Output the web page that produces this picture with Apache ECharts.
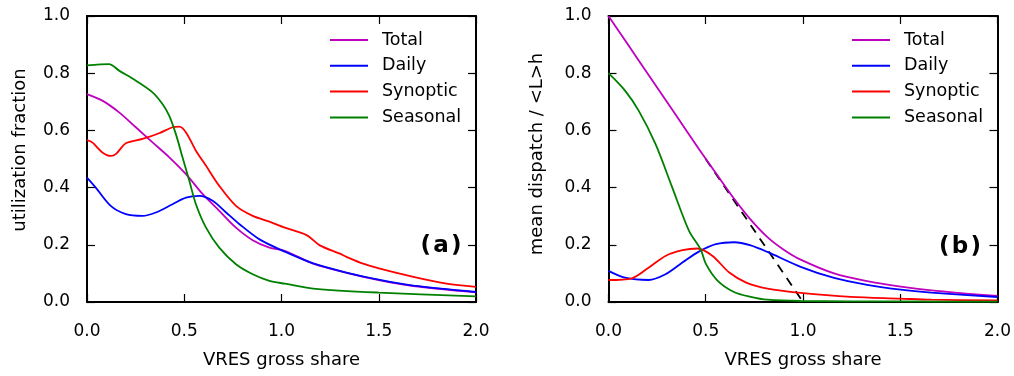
<!DOCTYPE html>
<html>
<head>
<meta charset="utf-8">
<script src="https://cdn.jsdelivr.net/npm/echarts@6/dist/echarts.min.js"></script>
<style>html,body{margin:0;padding:0;background:#fff;}#chart{width:1014px;height:376px;}</style>
</head>
<body>
<div id="chart"></div>
<script>
// ---------- data ----------
var seriesNames = ['Total', 'Daily', 'Synoptic', 'Seasonal'];
var xTicks = [0, 0.5, 1.0, 1.5, 2.0];
var yTicks = [0, 0.2, 0.4, 0.6, 0.8, 1.0];

// Panel (a): utilization fraction
var aTotalX = [0, 0.079, 0.165, 0.251, 0.337, 0.423, 0.509, 0.595, 0.68, 0.766, 0.852, 0.938, 1.017, 1.163, 1.334, 1.506, 1.677, 2.0];
var aTotalY = [0.727, 0.704, 0.663, 0.611, 0.558, 0.506, 0.447, 0.377, 0.319, 0.26, 0.216, 0.19, 0.179, 0.134, 0.102, 0.076, 0.056, 0.034];
var aDailyX = [0, 0.045, 0.122, 0.2, 0.285, 0.354, 0.44, 0.509, 0.577, 0.646, 0.715, 0.784, 0.887, 1.017, 1.163, 1.334, 1.506, 1.677, 2.0];
var aDailyY = [0.435, 0.40, 0.336, 0.307, 0.301, 0.313, 0.342, 0.365, 0.371, 0.354, 0.313, 0.272, 0.219, 0.176, 0.135, 0.103, 0.077, 0.057, 0.035];
var aSynX = [0, 0.027, 0.079, 0.122, 0.148, 0.2, 0.285, 0.371, 0.44, 0.474, 0.509, 0.56, 0.612, 0.68, 0.766, 0.852, 0.938, 1.017, 1.129, 1.197, 1.3, 1.334, 1.42, 1.506, 1.678, 1.849, 2.0];
var aSynY = [0.566, 0.558, 0.523, 0.511, 0.517, 0.555, 0.57, 0.59, 0.611, 0.613, 0.593, 0.529, 0.476, 0.406, 0.336, 0.301, 0.281, 0.26, 0.234, 0.198, 0.169, 0.158, 0.134, 0.117, 0.088, 0.064, 0.053];
var aSeaX = [0, 0.113, 0.165, 0.251, 0.337, 0.388, 0.423, 0.457, 0.491, 0.526, 0.56, 0.612, 0.68, 0.766, 0.852, 0.938, 1.017, 1.163, 1.5, 2.0];
var aSeaY = [0.827, 0.832, 0.809, 0.774, 0.733, 0.692, 0.651, 0.587, 0.506, 0.424, 0.342, 0.26, 0.19, 0.132, 0.097, 0.074, 0.064, 0.047, 0.033, 0.02];

// Panel (b): mean dispatch / <L>h
var bTotalX = [0, 0.1, 0.2, 0.3, 0.4, 0.473, 0.559, 0.645, 0.731, 0.817, 0.903, 0.988, 1.16, 1.33, 1.503, 1.66, 2.0];
var bTotalY = [1.0, 0.9, 0.8, 0.7, 0.6, 0.527, 0.444, 0.362, 0.288, 0.227, 0.182, 0.148, 0.1, 0.073, 0.054, 0.041, 0.021];
var bDailyX = [0, 0.085, 0.206, 0.293, 0.38, 0.465, 0.552, 0.647, 0.731, 0.817, 0.988, 1.16, 1.33, 1.503, 1.66, 2.0];
var bDailyY = [0.109, 0.085, 0.077, 0.097, 0.138, 0.176, 0.202, 0.209, 0.198, 0.175, 0.123, 0.084, 0.06, 0.043, 0.033, 0.0175];
var bSynX = [0, 0.12, 0.206, 0.293, 0.38, 0.457, 0.535, 0.621, 0.708, 0.817, 0.988, 1.246, 1.5, 1.66, 2.0];
var bSynY = [0.077, 0.083, 0.12, 0.161, 0.181, 0.187, 0.161, 0.103, 0.068, 0.047, 0.032, 0.018, 0.012, 0.008, 0.006];
var bSeaX = [0, 0.085, 0.155, 0.242, 0.328, 0.414, 0.474, 0.5, 0.559, 0.645, 0.731, 0.817, 0.988, 1.5, 2.0];
var bSeaY = [0.80, 0.739, 0.669, 0.552, 0.40, 0.249, 0.184, 0.134, 0.076, 0.035, 0.018, 0.008, 0.0035, 0.002, 0.001];
// dashed reference line in panel (b)
var bRefX = [0.5, 1.0];
var bRefY = [0.5, 0.0];

// ---------- chart ----------
var colors = {Total: '#bf00bf', Daily: '#0000ff', Synoptic: '#ff0000', Seasonal: '#008000'};
var FONT = '"DejaVu Sans", sans-serif';
function pairs(xs, ys) { return xs.map(function (x, i) { return [x, ys[i]]; }); }

var grids = [
  {left: 87, top: 16, width: 389, height: 286},
  {left: 608.5, top: 16, width: 389, height: 286}
];

function xAx(gi, pos) {
  return {
    type: 'value', gridIndex: gi, position: pos, min: 0, max: 2, interval: 0.5,
    axisLine: {show: true, onZero: false, lineStyle: {color: '#000', width: 2}},
    axisTick: {show: true, inside: true, length: 8, lineStyle: {color: '#000', width: 1.2}},
    axisLabel: {show: pos === 'bottom', margin: 21, fontSize: 17, color: '#000', fontFamily: FONT,
      formatter: function (v) { return v.toFixed(1); }},
    splitLine: {show: false}
  };
}
function yAx(gi, pos) {
  return {
    type: 'value', gridIndex: gi, position: pos, min: 0, max: 1, interval: 0.2,
    axisLine: {show: true, onZero: false, lineStyle: {color: '#000', width: 2}},
    axisTick: {show: true, inside: true, length: 8, lineStyle: {color: '#000', width: 1.2}},
    axisLabel: {show: pos === 'left', margin: 17, fontSize: 17, color: '#000', fontFamily: FONT,
      formatter: function (v) { return v.toFixed(1); }},
    splitLine: {show: false}
  };
}

function line(name, xs, ys, gi) {
  return {
    name: name, type: 'line', xAxisIndex: gi * 2, yAxisIndex: gi * 2,
    data: pairs(xs, ys), showSymbol: false, symbol: 'none', smooth: 0.3,
    lineStyle: {color: colors[name], width: 1.8}, itemStyle: {color: colors[name]},
    animation: false, z: 3
  };
}

var series = [
  line('Total', aTotalX, aTotalY, 0),
  line('Daily', aDailyX, aDailyY, 0),
  line('Synoptic', aSynX, aSynY, 0),
  line('Seasonal', aSeaX, aSeaY, 0),
  {
    type: 'line', xAxisIndex: 2, yAxisIndex: 2, data: pairs(bRefX, bRefY),
    showSymbol: false, symbol: 'none', silent: true,
    lineStyle: {color: '#000', width: 1.8, type: [9, 7]}, animation: false, z: 2
  },
  line('Total', bTotalX, bTotalY, 1),
  line('Daily', bDailyX, bDailyY, 1),
  line('Synoptic', bSynX, bSynY, 1),
  line('Seasonal', bSeaX, bSeaY, 1)
];

function legend(left) {
  return {
    data: seriesNames, orient: 'vertical', left: left, top: 30, padding: 0,
    icon: 'rect', itemWidth: 38, itemHeight: 2, itemGap: 5.8,
    textStyle: {fontSize: 17.5, lineHeight: 20, color: '#000', fontFamily: FONT, padding: [0, 0, 0, 9]},
    selectedMode: false
  };
}

var option = {
  backgroundColor: '#fff',
  animation: false,
  grid: grids,
  xAxis: [xAx(0, 'bottom'), xAx(0, 'top'), xAx(1, 'bottom'), xAx(1, 'top')],
  yAxis: [yAx(0, 'left'), yAx(0, 'right'), yAx(1, 'left'), yAx(1, 'right')],
  legend: [legend(330), legend(852)],
  series: series,
  graphic: [
    {type: 'text', x: 281.5, y: 360, style: {text: 'VRES gross share', font: '18px ' + FONT, fill: '#000', textAlign: 'center', textVerticalAlign: 'middle'}},
    {type: 'text', x: 803, y: 360, style: {text: 'VRES gross share', font: '18px ' + FONT, fill: '#000', textAlign: 'center', textVerticalAlign: 'middle'}},
    {type: 'text', x: 20, y: 150, rotation: Math.PI / 2, style: {text: 'utilization fraction', font: '18px ' + FONT, fill: '#000', textAlign: 'center', textVerticalAlign: 'middle'}},
    {type: 'text', x: 537, y: 154, rotation: Math.PI / 2, style: {text: 'mean dispatch / <L>h', font: '18px ' + FONT, fill: '#000', textAlign: 'center', textVerticalAlign: 'middle'}},
    {type: 'text', x: 441, y: 246, style: {text: '(\u200aa\u200a)', font: 'bold 23px ' + FONT, fill: '#000', textAlign: 'center', textVerticalAlign: 'middle'}},
    {type: 'text', x: 960, y: 247, style: {text: '(\u200ab\u200a)', font: 'bold 23px ' + FONT, fill: '#000', textAlign: 'center', textVerticalAlign: 'middle'}}
  ]
};

var chart = echarts.init(document.getElementById('chart'), null, {renderer: 'canvas'});
chart.setOption(option);
</script>
</body>
</html>
